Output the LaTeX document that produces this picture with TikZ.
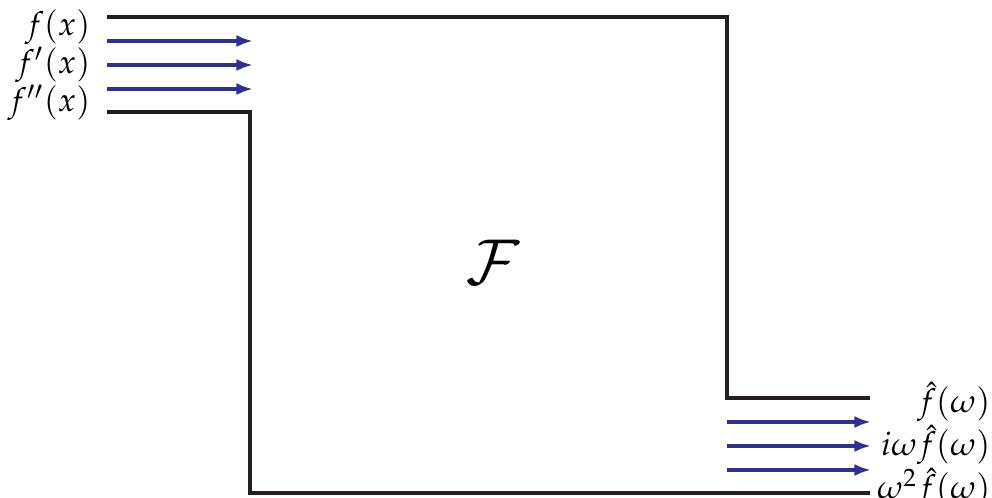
\documentclass[tikz,border=0pt]{standalone}
\usepackage{amsmath,amssymb}
\usepackage{mathpazo}
\usepackage{xcolor}
\usetikzlibrary{arrows.meta,positioning,calc}
\definecolor{flow}{RGB}{46,49,146}
\definecolor{wallc}{RGB}{35,31,32}

\begin{document}
\begin{tikzpicture}[
  x=0.3333pt,y=-0.3333pt,
  wall/.style={draw=wallc,line width=1.1pt},
  ar/.style={draw=flow,line width=1.1pt,-{Latex[length=5.5pt,width=4pt]}},
  lbl/.style={align=right,inner sep=0pt,font=\fontsize{11}{12.6}\selectfont}
]
\useasboundingbox (0,0) rectangle (992,498);
% channel walls
\coordinate (tl) at (107,17); \coordinate (tr) at (727,17);
\coordinate (rs) at (727,398); \coordinate (ro) at (870,398);
\coordinate (ls) at (107,112); \coordinate (li) at (250,112);
\coordinate (bl) at (250,493); \coordinate (br) at (870,493);
\draw[wall] (tl)--(tr)--(rs)--(ro);
\draw[wall] (ls)--(li)--(bl)--(br);
% incoming and outgoing flows
\coordinate (a1) at (107,41); \coordinate (b1) at (253,41);
\coordinate (a2) at (107,65); \coordinate (b2) at (253,65);
\coordinate (a3) at (107,89); \coordinate (b3) at (253,89);
\coordinate (c1) at (727,422); \coordinate (d1) at (871,422);
\coordinate (c2) at (727,446); \coordinate (d2) at (871,446);
\coordinate (c3) at (727,470); \coordinate (d3) at (871,470);
\draw[ar] (a1)--(b1); \draw[ar] (a2)--(b2); \draw[ar] (a3)--(b3);
\draw[ar] (c1)--(d1); \draw[ar] (c2)--(d2); \draw[ar] (c3)--(d3);
\node[lbl,anchor=east] (inp) at (91,65) {$f(x)$\\$f'(x)$\\$f''(x)$};
\node[lbl,anchor=east] (outp) at (991,445) {$\hat{f}(\omega)$\\$i\omega\hat{f}(\omega)$\\$\omega^2\hat{f}(\omega)$};
\node[font=\huge] (op) at (493,262) {$\mathcal{F}$};
\end{tikzpicture}
\end{document}
